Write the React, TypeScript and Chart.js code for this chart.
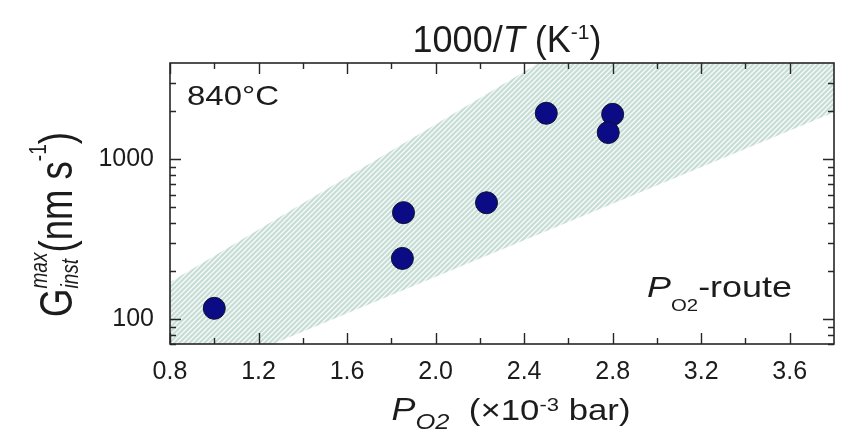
import React, { useEffect, useRef } from "react";
import { Chart, registerables } from "chart.js";

Chart.register(...registerables);

// ---- data ----
const pO2 = [1.0, 1.855, 1.85, 2.23, 2.5, 2.8, 2.78];
const growthRate = [117, 464, 240, 535, 1940, 1910, 1470];
const bandX = [0.8, 3.8];
const bandUpper = [170, 50000];
const bandLower = [38, 1967];
const xTickValues = [0.8, 1.2, 1.6, 2.0, 2.4, 2.8, 3.2, 3.6];
const xMinorTickValues = [1.0, 1.4, 1.8, 2.2, 2.6, 3.0, 3.4];
const yTickValues = [100, 1000];
const yMinorTickValues = [70, 80, 90, 200, 300, 400, 500, 600, 700, 800, 900, 2000, 3000];

const FAMILY = '"Liberation Sans", Arial, sans-serif';
const TEXT = "#1c1c1c";

type Seg = { t: string; size: number; italic?: boolean; dy?: number; stack?: Seg[] };

function segFont(s: Seg) {
  return `${s.italic ? "italic " : ""}${s.size}px ${FAMILY}`;
}

function segWidth(ctx: CanvasRenderingContext2D, s: Seg): number {
  if (s.stack) return Math.max(...s.stack.map((q) => segWidth(ctx, q)));
  ctx.font = segFont(s);
  return ctx.measureText(s.t).width;
}

function drawRich(
  ctx: CanvasRenderingContext2D,
  segs: Seg[],
  x: number,
  y: number,
  align: "left" | "center",
  width?: number,
  rotate?: number
) {
  const natural = segs.reduce((a, s) => a + segWidth(ctx, s), 0);
  const sx = width ? width / natural : 1;
  ctx.save();
  ctx.translate(x, y);
  if (rotate) ctx.rotate(rotate);
  ctx.scale(sx, 1);
  ctx.fillStyle = TEXT;
  ctx.textBaseline = "alphabetic";
  ctx.textAlign = "left";
  let cx = align === "center" ? -natural / 2 : 0;
  for (const s of segs) {
    if (s.stack) {
      for (const q of s.stack) {
        ctx.font = segFont(q);
        ctx.fillText(q.t, cx, q.dy || 0);
      }
    } else {
      ctx.font = segFont(s);
      ctx.fillText(s.t, cx, s.dy || 0);
    }
    cx += segWidth(ctx, s);
  }
  ctx.restore();
}

function makePattern(): CanvasPattern | string {
  const s = 5;
  const c = document.createElement("canvas");
  c.width = s;
  c.height = s;
  const g = c.getContext("2d");
  if (!g) return "rgb(205,225,218)";
  g.fillStyle = "rgb(198,221,213)";
  g.fillRect(0, 0, s, s);
  g.strokeStyle = "rgb(248,251,250)";
  g.lineWidth = 1.3;
  g.beginPath();
  g.moveTo(0, s);
  g.lineTo(s, 0);
  g.moveTo(-1, 1);
  g.lineTo(1, -1);
  g.moveTo(s - 1, s + 1);
  g.lineTo(s + 1, s - 1);
  g.stroke();
  const p = g.createPattern(c, "repeat");
  return p || "rgb(205,225,218)";
}

const decorPlugin = {
  id: "decor",
  afterDraw(chart: any) {
    const ctx: CanvasRenderingContext2D = chart.ctx;
    const { left, right, top, bottom } = chart.chartArea;
    const xs = chart.scales.x;
    const ys = chart.scales.y;
    ctx.save();
    ctx.strokeStyle = "#262626";
    ctx.lineWidth = 1.6;
    ctx.strokeRect(left, top, right - left, bottom - top);
    ctx.lineWidth = 1.4;
    ctx.beginPath();
    const major = 11;
    const minor = 6;
    for (const v of [...xTickValues, ...xMinorTickValues]) {
      const len = xTickValues.includes(v) ? major : minor;
      const px = Math.round(xs.getPixelForValue(v)) + 0.5;
      ctx.moveTo(px, bottom);
      ctx.lineTo(px, bottom - len);
      ctx.moveTo(px, top);
      ctx.lineTo(px, top + len);
    }
    for (const v of [...yTickValues, ...yMinorTickValues]) {
      const len = yTickValues.includes(v) ? major : minor;
      const py = Math.round(ys.getPixelForValue(v)) + 0.5;
      ctx.moveTo(left, py);
      ctx.lineTo(left + len, py);
      ctx.moveTo(right, py);
      ctx.lineTo(right - len, py);
    }
    ctx.stroke();
    ctx.restore();

    // top title
    drawRich(
      ctx,
      [
        { t: "1000/", size: 36 },
        { t: "T", size: 36, italic: true },
        { t: " (K", size: 36 },
        { t: "-1", size: 21, dy: -13 },
        { t: ")", size: 36 },
      ],
      507,
      52,
      "center",
      189
    );

    // x title
    drawRich(
      ctx,
      [
        { t: "P", size: 31, italic: true },
        { t: "O2", size: 22, italic: true, dy: 9 },
        { t: "  (\u00d710", size: 30 },
        { t: "-3", size: 19, dy: -9 },
        { t: " bar)", size: 30 },
      ],
      511,
      420,
      "center",
      239
    );

    // y title (rotated)
    drawRich(
      ctx,
      [
        { t: "G", size: 46 },
        {
          t: "",
          size: 24,
          stack: [
            { t: "max", size: 24, italic: true, dy: -25 },
            { t: "inst", size: 24, italic: true, dy: 6 },
          ],
        },
        { t: "(nm s", size: 46 },
        { t: "-1", size: 24, dy: -26 },
        { t: ")", size: 46 },
      ],
      72,
      224.5,
      "center",
      185,
      -Math.PI / 2
    );

    // annotations
    drawRich(ctx, [{ t: "840\u00b0C", size: 28 }], 187, 105, "left", 92);
    drawRich(
      ctx,
      [
        { t: "P", size: 30, italic: true },
        { t: "O2", size: 17, dy: 14 },
        { t: "-route", size: 30 },
      ],
      647,
      297,
      "left",
      145
    );
  },
};

export default function App() {
  const ref = useRef<HTMLCanvasElement | null>(null);
  useEffect(() => {
    if (!ref.current) return;
    const pattern = makePattern();
    const chart = new Chart(ref.current, {
      type: "scatter",
      data: {
        datasets: [
          {
            type: "scatter",
            label: "data",
            data: pO2.map((x, i) => ({ x, y: growthRate[i] })),
            backgroundColor: "#0b0b85",
            borderColor: "#101030",
            borderWidth: 1,
            pointRadius: 11,
            pointHoverRadius: 11,
          },
          {
            type: "line",
            label: "lower",
            data: bandX.map((x, i) => ({ x, y: bandLower[i] })),
            borderWidth: 0,
            pointRadius: 0,
            fill: false,
            showLine: true,
          },
          {
            type: "line",
            label: "upper",
            data: bandX.map((x, i) => ({ x, y: bandUpper[i] })),
            borderWidth: 0,
            pointRadius: 0,
            backgroundColor: pattern as any,
            fill: "-1",
            showLine: true,
          },
        ] as any,
      },
      options: {
        responsive: false,
        animation: false,
        events: [],
        layout: { padding: { top: 63, right: 3, left: 0, bottom: 0 } },
        plugins: {
          legend: { display: false },
          tooltip: { enabled: false },
          filler: { propagate: false },
        },
        scales: {
          x: {
            type: "linear",
            position: "bottom",
            min: 0.8,
            max: 3.8,
            grid: { display: false, drawTicks: false },
            border: { display: false },
            afterBuildTicks: (s: any) => {
              s.ticks = xTickValues.map((v) => ({ value: v }));
            },
            afterFit: (s: any) => {
              s.height = 88;
            },
            ticks: {
              autoSkip: false,
              maxRotation: 0,
              padding: 13,
              color: TEXT,
              font: { family: FAMILY, size: 25 },
              callback: (v: any) => Number(v).toFixed(1),
            },
          },
          y: {
            type: "logarithmic",
            min: 70,
            max: 4000,
            grid: { display: false, drawTicks: false },
            border: { display: false },
            afterBuildTicks: (s: any) => {
              s.ticks = yTickValues.map((v) => ({ value: v }));
            },
            afterFit: (s: any) => {
              s.width = 170;
            },
            ticks: {
              autoSkip: false,
              padding: 16,
              color: TEXT,
              font: { family: FAMILY, size: 25 },
              callback: (v: any) => String(v),
            },
          },
        },
      } as any,
      plugins: [decorPlugin],
    });
    return () => chart.destroy();
  }, []);
  return (
    <div style={{ position: "absolute", left: 0, top: 0, width: 846, height: 432, background: "#fff" }}>
      <canvas ref={ref} width={846} height={432} style={{ display: "block" }} />
    </div>
  );
}
